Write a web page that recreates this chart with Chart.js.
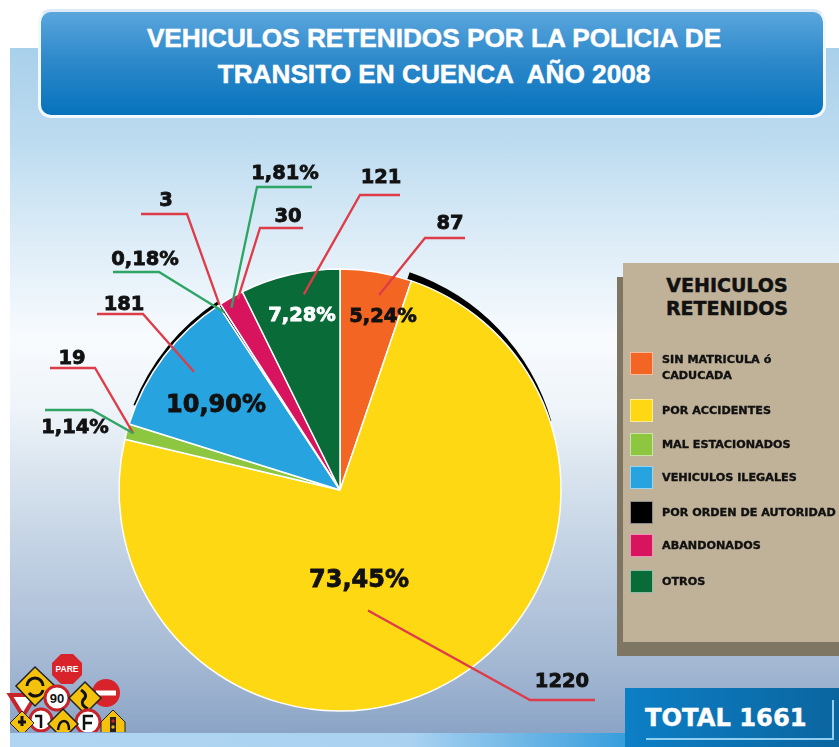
<!DOCTYPE html>
<html lang="es"><head><meta charset="utf-8">
<script src="https://cdn.jsdelivr.net/npm/chart.js@4"></script>
<style>
html,body{margin:0;padding:0;background:#fff;width:839px;height:747px;overflow:hidden}
#stage{position:relative;width:839px;height:747px;overflow:hidden;font-family:"DejaVu Sans",sans-serif}
.abs{position:absolute}
#bg{left:10px;top:48px;right:0;bottom:0;background:linear-gradient(180deg,#a9d0ea 0,#bcdbf0 90px,#dcecf7 190px,#f8fbfe 290px,#eef4f9 360px,#cbd9e8 470px,#a9bcd6 600px,#8ba4c6 685px)}
#band{left:10px;right:0;top:733px;bottom:0;background:linear-gradient(90deg,#b0d5f2 0,#aad2f0 400px,#3a9fdd 610px,#0c7ac0 100%)}
#titlebox{left:38px;top:9px;width:788px;height:109px;box-sizing:border-box;border:3px solid #f2f8fc;border-top-color:#dcebf5;border-radius:13px;background:linear-gradient(180deg,#5aa6dd 0,#2f8acb 45%,#0672bc 100%);color:#fff;font:bold 26.2px/36px "Liberation Sans",sans-serif;text-align:center;padding-top:8px;padding-left:4px;-webkit-text-stroke:.5px #fff}
#title{white-space:pre}
#lshadow{left:617px;top:277px;right:0;height:379px;background:#7e7663}
#lpanel{left:623px;top:263px;right:0;height:379px;background:#c0b299}
#lhead{left:623px;top:274px;width:208px;text-align:center;font:bold 19px/23px "DejaVu Sans",sans-serif;color:#111;white-space:pre;-webkit-text-stroke:.5px #111}
.sw{position:absolute;left:630px;width:23px;height:23px;box-sizing:border-box;border:1.5px solid rgba(255,255,255,.55)}
.lt{position:absolute;left:662px;font:bold 10.3px/16px "DejaVu Sans",sans-serif;color:#111;white-space:pre;transform:scaleX(1.085);transform-origin:left;-webkit-text-stroke:.35px #111}
#totalbox{left:625px;top:688px;right:0;bottom:0;background:linear-gradient(90deg,#0d7fc6,#0b659f)}
#total{left:645px;top:704px;font:bold 24.2px/28px "DejaVu Sans",sans-serif;color:#fff;white-space:pre;-webkit-text-stroke:.4px #fff}
#tl1{left:646px;top:738px;width:188px;height:2px;background:#8fd0f2}
#tl2{left:832px;top:700px;width:2px;height:40px;background:#8fd0f2}
#chart{position:absolute;left:0;top:0}
#signs{left:0;top:640px}
</style></head><body>
<div id="stage">
<div id="bg" class="abs"></div>
<div id="band" class="abs"></div>
<div id="titlebox" class="abs"><div id="title"></div></div>
<div id="lshadow" class="abs"></div>
<div id="lpanel" class="abs"></div>
<div id="lhead" class="abs"></div>
<div id="totalbox" class="abs"></div>
<div id="total" class="abs"></div>
<div id="tl1" class="abs"></div>
<div id="tl2" class="abs"></div>
<svg id="signs" class="abs" width="130" height="107" viewBox="0 640 130 107">
<defs><clipPath id="c"><rect x="0" y="640" width="130" height="92"/></clipPath></defs>
<g clip-path="url(#c)">
<polygon points="61,654 73,654 82,663 82,675 73,684 61,684 52,675 52,663" fill="#d8232a"/>
<text x="67" y="672" font-family="Liberation Sans" font-weight="bold" font-size="8.5" fill="#fff" text-anchor="middle">PARE</text>
<circle cx="106" cy="693" r="14" fill="#d8232a"/><rect x="96" y="690.5" width="20" height="5" fill="#fff"/>
<polygon points="10,695 36,695 23,716" fill="#fff" stroke="#c8232a" stroke-width="4"/>
<g stroke="#222" stroke-width="1.5"><polygon points="35,667 55,686 35,706 16,686" fill="#f4c20d"/></g>
<path d="M27,686 a8,8 0 0 1 16,0 M43,690 a8,8 0 0 1 -14,3" fill="none" stroke="#111" stroke-width="3"/>
<circle cx="57" cy="698" r="12" fill="#fff" stroke="#c8232a" stroke-width="3"/>
<text x="57" y="703" font-family="Liberation Sans" font-weight="bold" font-size="13" fill="#111" text-anchor="middle">90</text>
<polygon points="85,682 101,698 85,714 69,698" fill="#f4c20d" stroke="#222" stroke-width="1.5"/>
<path d="M81,690 q8,5 2,10 q-3,5 5,9" fill="none" stroke="#111" stroke-width="3"/>
<circle cx="41" cy="720" r="11" fill="#fff" stroke="#c8232a" stroke-width="3"/>
<path d="M41,728 v-12 h-6" fill="none" stroke="#111" stroke-width="2.5"/>
<circle cx="88" cy="722" r="12" fill="#fff" stroke="#c8232a" stroke-width="3"/>
<path d="M84,730 v-14 h9 M84,723 h8" fill="none" stroke="#111" stroke-width="2.5"/>
<polygon points="22,711 34,723 22,735 10,723" fill="#f4c20d" stroke="#222"/>
<path d="M22,716 v10 M18,722 h8" stroke="#111" stroke-width="3"/>
<polygon points="63,709 78,724 63,739 48,724" fill="#f4c20d" stroke="#222" stroke-width="1.5"/>
<path d="M58,730 q1,-9 6,-9 q5,0 5,9" fill="none" stroke="#111" stroke-width="2.5"/>
<polygon points="113,710 125,722 125,735 101,735 101,722" fill="#f4c20d" stroke="#222"/>
<rect x="110" y="717" width="6" height="15" fill="#222"/><circle cx="113" cy="721" r="1.7" fill="#d8232a"/><circle cx="113" cy="727" r="1.7" fill="#e9b90d"/>
</g></svg>
<canvas id="chart" width="839" height="747"></canvas>
</div>
<script>
// ---- data ----
const titleLines = ["VEHICULOS RETENIDOS POR LA POLICIA DE", "TRANSITO EN CUENCA  AÑO 2008"];
const legendTitle = ["VEHICULOS", "RETENIDOS"];
const categories = ["SIN MATRICULA ó\nCADUCADA", "POR ACCIDENTES", "MAL ESTACIONADOS", "VEHICULOS ILEGALES", "POR ORDEN DE AUTORIDAD", "ABANDONADOS", "OTROS"];
const counts = [87, 1220, 19, 181, 3, 30, 121];
const percents = ["5,24%", "73,45%", "1,14%", "10,90%", "0,18%", "1,81%", "7,28%"];
const sliceColors = ["#f26522", "#ffd814", "#8dc63f", "#27a3e0", "#000000", "#d9145f", "#086b38"];
const totalText = "TOTAL 1661";

// ---- layout of the annotations ----
const RED = "#de3c48", GREEN = "#2fa565";
const PIE = {cx: 340, cy: 490, r: 221};
// kind: which value the leader carries; frac/along locate its tip in the slice; elbow and tail are page pixels
const leaders = [
  {i:0, kind:"count", frac:.90, along:.60, elbow:[425,238], tail:[465,238], text:[450,224], color:RED},
  {i:1, kind:"count", frac:.56, along:.56, elbow:[530,700], tail:[595,700], text:[562,682], color:RED},
  {i:2, kind:"count", frac:.97, along:.50, elbow:[95,368],  tail:[50,368],  text:[72,359],  color:RED},
  {i:2, kind:"pct",   frac:.97, along:.50, elbow:[92,410],  tail:[45,410],  text:[75,428],  color:GREEN},
  {i:3, kind:"count", frac:.85, along:.55, elbow:[143,314], tail:[97,314],  text:[124,305], color:RED},
  {i:4, kind:"count", frac:1.0, along:.50, elbow:[187,214], tail:[141,214], text:[166,201], color:RED},
  {i:4, kind:"pct",   frac:.96, along:.50, elbow:[159,272], tail:[113,272], text:[145,260], color:GREEN},
  {i:5, kind:"pct",   frac:.96, along:.30, elbow:[257,187], tail:[312,187], text:[285,174], color:GREEN},
  {i:5, kind:"count", frac:.98, along:.70, elbow:[260,228], tail:[303,228], text:[288,217], color:RED},
  {i:6, kind:"count", frac:.90, along:.60, elbow:[360,195], tail:[400,195], text:[381,178], color:RED}
];
const insideLabels = [
  {i:0, pos:[383,317], size:19.5, color:"#111"},
  {i:1, pos:[359,581], size:24,   color:"#111"},
  {i:3, pos:[216,406], size:24,   color:"#111"},
  {i:6, pos:[302,316], size:19.5, color:"#fff"}
];
const legendRows = [363, 410, 444, 477, 512, 545, 581];

document.getElementById("title").textContent = titleLines.join("\n");
document.getElementById("lhead").textContent = legendTitle.join("\n");
document.getElementById("total").textContent = totalText;
const stage = document.getElementById("stage");
categories.forEach((c, k) => {
  const s = document.createElement("div");
  s.className = "sw"; s.style.top = (legendRows[k] - 11.5) + "px"; s.style.background = sliceColors[k];
  stage.appendChild(s);
  const t = document.createElement("div");
  t.className = "lt"; t.textContent = c;
  t.style.top = (legendRows[k] - 8 + (c.includes("\n") ? -4 : 0)) + "px";
  stage.appendChild(t);
});

const blackRims = {
  id: "blackRims",
  beforeDatasetsDraw(chart) {
    const a = chart.getDatasetMeta(0).data, ctx = chart.ctx;
    const rim = (cx, cy, r, s, e) => {
      ctx.beginPath(); ctx.moveTo(cx, cy); ctx.arc(cx, cy, r, s, e); ctx.closePath();
      ctx.fillStyle = "#000"; ctx.fill();
    };
    const deg = Math.PI / 180;
    ctx.save();
    rim(a[1].x - 2.1, a[1].y - 7.7, PIE.r + 1, a[1].startAngle, -90 * deg + 74 * deg);
    rim(a[3].x - 1.7, a[3].y - 4.7, PIE.r - 1, a[3].startAngle + 4 * deg, a[3].endAngle);
    ctx.restore();
  }
};
const annotations = {
  id: "annotations",
  afterDatasetsDraw(chart) {
    const a = chart.getDatasetMeta(0).data, ctx = chart.ctx;
    ctx.save();
    ctx.lineJoin = "miter"; ctx.lineCap = "butt";
    ctx.textAlign = "center"; ctx.textBaseline = "middle";
    const heavyText = (str, x, y, size, color) => {
      ctx.font = 'bold ' + size + 'px "DejaVu Sans"';
      ctx.fillStyle = color; ctx.strokeStyle = color; ctx.lineWidth = 0.8;
      ctx.strokeText(str, x, y); ctx.fillText(str, x, y);
    };
    leaders.forEach(l => {
      const el = a[l.i], ang = el.startAngle + (el.endAngle - el.startAngle) * l.along;
      ctx.beginPath();
      ctx.moveTo(el.x + Math.cos(ang) * el.outerRadius * l.frac, el.y + Math.sin(ang) * el.outerRadius * l.frac);
      ctx.lineTo(l.elbow[0], l.elbow[1]); ctx.lineTo(l.tail[0], l.tail[1]);
      ctx.strokeStyle = l.color; ctx.lineWidth = 2.3; ctx.stroke();
      heavyText(l.kind === "count" ? String(counts[l.i]) : percents[l.i], l.text[0], l.text[1], 19.5, "#111");
    });
    insideLabels.forEach(l => heavyText(percents[l.i], l.pos[0], l.pos[1], l.size, l.color));
    ctx.restore();
  }
};

new Chart(document.getElementById("chart"), {
  type: "pie",
  data: {labels: categories, datasets: [{data: counts, backgroundColor: sliceColors, borderColor: "#ffffff", borderWidth: 1.5, radius: PIE.r}]},
  options: {
    responsive: false, animation: false, events: [],
    layout: {padding: {left: 0, right: 839 - 2 * PIE.cx, top: 2 * PIE.cy - 747, bottom: 0}},
    plugins: {legend: {display: false}, tooltip: {enabled: false}}
  },
  plugins: [blackRims, annotations]
});
</script>
</body></html>
